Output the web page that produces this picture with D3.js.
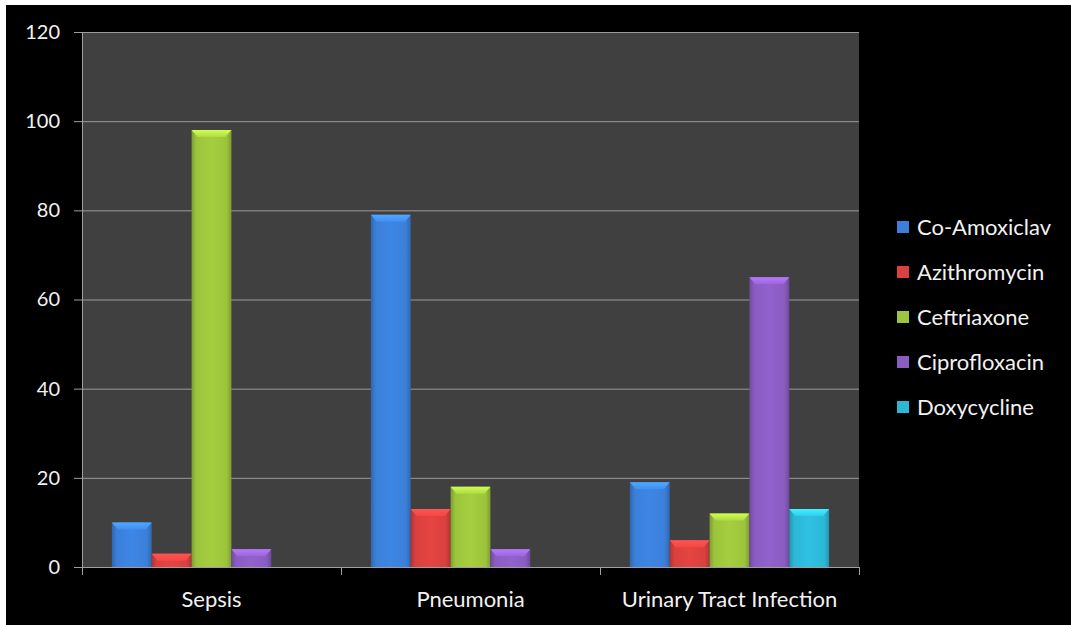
<!DOCTYPE html>
<html>
<head>
<meta charset="utf-8">
<script src="https://cdn.jsdelivr.net/npm/d3@7/dist/d3.min.js"></script>
<style>
  html, body { margin: 0; padding: 0; background: #ffffff; }
  svg { display: block; }
  text { font-family: Lato, "Open Sans", sans-serif; fill: #f2f2f2; }
</style>
</head>
<body>
<svg id="chart" width="1071" height="625"></svg>
<script>
const categories = ["Sepsis", "Pneumonia", "Urinary Tract Infection"];
const seriesNames = ["Co-Amoxiclav", "Azithromycin", "Ceftriaxone", "Ciprofloxacin", "Doxycycline"];
const coAmoxiclav = [10, 79, 19];
const azithromycin = [3, 13, 6];
const ceftriaxone = [98, 18, 12];
const ciprofloxacin = [4, 4, 65];
const doxycycline = [0, 0, 13];
const yTicks = [0, 20, 40, 60, 80, 100, 120];
const seriesColors = ["#3b7fd9", "#d9403e", "#9cc43c", "#8a5cc2", "#2db7d6"];

const seriesValues = [coAmoxiclav, azithromycin, ceftriaxone, ciprofloxacin, doxycycline];

const svg = d3.select("#chart");
svg.append("rect").attr("x", 6).attr("y", 5).attr("width", 1065).attr("height", 620).attr("fill", "#000");

const L = 82, R = 859, T = 32, B = 567;
const x = d3.scaleBand().domain(categories).range([L, R]).paddingInner(0).paddingOuter(0);
const xs = d3.scaleBand().domain(seriesNames).range([0, x.bandwidth()]).paddingInner(0).paddingOuter(0.75);
const y = d3.scaleLinear().domain([0, 120]).range([B, T]);

svg.append("rect").attr("x", L).attr("y", T).attr("width", R - L).attr("height", B - T).attr("fill", "#404040");

svg.append("g").selectAll("line").data(yTicks.filter(d => d > 0)).join("line")
  .attr("x1", L).attr("x2", R).attr("y1", d => y(d) + 0.5).attr("y2", d => y(d) + 0.5)
  .attr("stroke", "#9a9a9a").attr("stroke-width", 1);

const defs = svg.append("defs");
seriesColors.forEach((c, i) => {
  const g = defs.append("linearGradient").attr("id", "grad" + i).attr("x1", "0").attr("x2", "1").attr("y1", "0").attr("y2", "0");
  const base = d3.color(c);
  g.append("stop").attr("offset", "0%").attr("stop-color", base.darker(0.6));
  g.append("stop").attr("offset", "12%").attr("stop-color", base);
  g.append("stop").attr("offset", "50%").attr("stop-color", base.brighter(0.15));
  g.append("stop").attr("offset", "88%").attr("stop-color", base);
  g.append("stop").attr("offset", "100%").attr("stop-color", base.darker(0.6));
  const gc = defs.append("linearGradient").attr("id", "cap" + i).attr("x1", "0").attr("x2", "0").attr("y1", "0").attr("y2", "1");
  gc.append("stop").attr("offset", "0%").attr("stop-color", base.brighter(0.8));
  gc.append("stop").attr("offset", "100%").attr("stop-color", base.brighter(0.3));
});

const data = [];
categories.forEach((cat, ci) => {
  seriesNames.forEach((s, si) => data.push({ cat, s, si, v: seriesValues[si][ci] }));
});
const bars = svg.append("g").selectAll("g").data(data.filter(d => d.v > 0)).join("g");
bars.append("rect")
  .attr("x", d => x(d.cat) + xs(d.s))
  .attr("y", d => y(d.v))
  .attr("width", xs.bandwidth())
  .attr("height", d => y(0) - y(d.v))
  .attr("fill", d => `url(#grad${d.si})`);
bars.append("path")
  .attr("d", d => {
    const x0 = x(d.cat) + xs(d.s), w = xs.bandwidth(), y0 = y(d.v);
    const h = Math.min(7, y(0) - y0);
    return `M${x0},${y0}L${x0 + w},${y0}L${x0 + w - 6},${y0 + h}L${x0 + 6},${y0 + h}Z`;
  })
  .attr("fill", d => `url(#cap${d.si})`);

const yAxis = svg.append("g").attr("transform", `translate(${L},0)`)
  .call(d3.axisLeft(y).tickValues(yTicks).tickSize(8).tickPadding(14).tickFormat(d3.format("d")));
yAxis.select(".domain").attr("stroke", "#a0a0a0");
yAxis.selectAll(".tick line").attr("stroke", "#a0a0a0");
yAxis.selectAll("text").style("font-size", "20px").attr("fill", "#f2f2f2").style("font-family", "Lato, 'Open Sans', sans-serif");

const xAxis = svg.append("g").attr("transform", `translate(0,${B})`)
  .call(d3.axisBottom(x).tickSize(0).tickPadding(24));
xAxis.select(".domain").attr("stroke", "#a0a0a0");
xAxis.selectAll("text").style("font-size", "22px").attr("fill", "#f2f2f2").style("font-family", "Lato, 'Open Sans', sans-serif");
const boundaries = [L].concat(categories.map(c => x(c) + x.bandwidth()));
xAxis.append("g").selectAll("line").data(boundaries).join("line")
  .attr("x1", d => d + 0.5).attr("x2", d => d + 0.5).attr("y1", 0).attr("y2", 8)
  .attr("stroke", "#a0a0a0");

const legend = svg.append("g");
const lg = legend.selectAll("g").data(seriesNames).join("g")
  .attr("transform", (d, i) => `translate(897,${227 + i * 45})`);
lg.append("rect").attr("x", 0).attr("y", -6).attr("width", 12).attr("height", 12)
  .attr("fill", (d, i) => seriesColors[i]);
lg.append("text").attr("x", 20).attr("y", 0).attr("dy", "0.35em")
  .style("font-size", "22px").text(d => d);
</script>
</body>
</html>
